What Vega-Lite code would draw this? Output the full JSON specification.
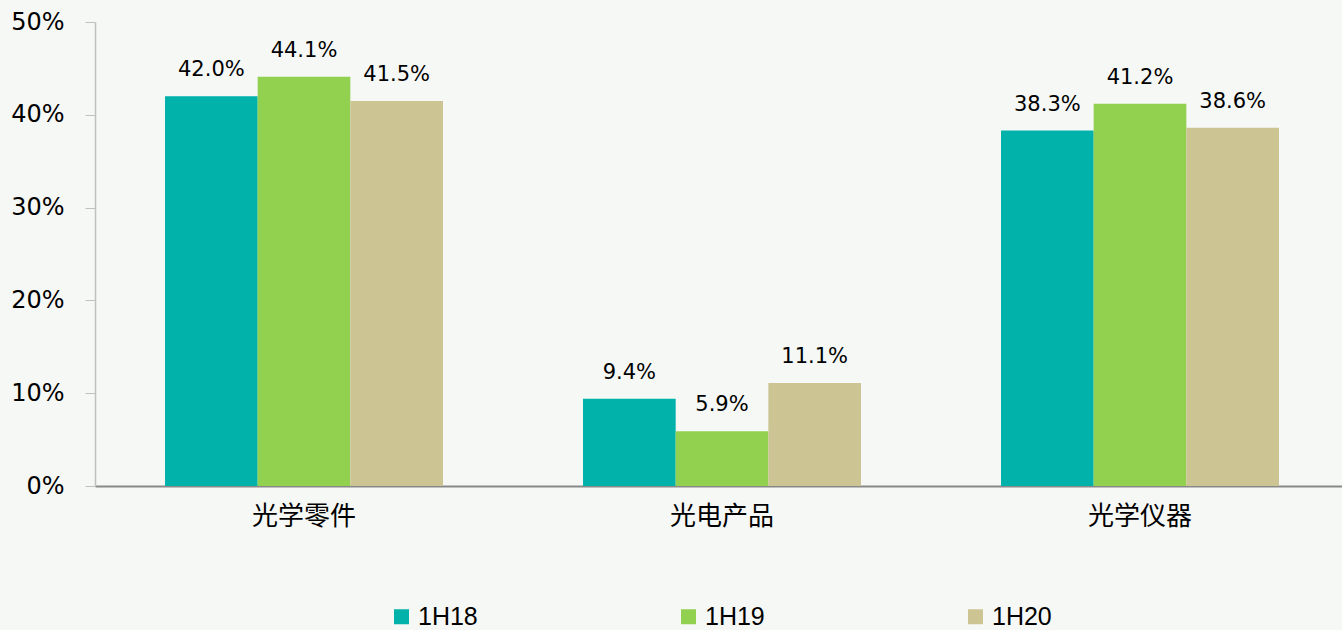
{
  "$schema": "https://vega.github.io/schema/vega-lite/v6.json",
  "width": 1247,
  "height": 464,
  "autosize": {"type": "none"},
  "padding": {"left": 95, "top": 22, "right": 0, "bottom": 144},
  "background": "#f6f8f6",
  "config": {"view": {"stroke": null}},
  "data": {
    "values": [
      {"cat": "光学零件", "period": "1H18", "value": 0.420},
      {"cat": "光学零件", "period": "1H19", "value": 0.441},
      {"cat": "光学零件", "period": "1H20", "value": 0.415},
      {"cat": "光电产品", "period": "1H18", "value": 0.094},
      {"cat": "光电产品", "period": "1H19", "value": 0.059},
      {"cat": "光电产品", "period": "1H20", "value": 0.111},
      {"cat": "光学仪器", "period": "1H18", "value": 0.383},
      {"cat": "光学仪器", "period": "1H19", "value": 0.412},
      {"cat": "光学仪器", "period": "1H20", "value": 0.386}
    ]
  },
  "encoding": {
    "x": {
      "field": "cat",
      "type": "nominal",
      "sort": ["光学零件", "光电产品", "光学仪器"],
      "scale": {"range": [0, 1254], "paddingInner": 0.335, "paddingOuter": 0.1675},
      "axis": {
        "title": null,
        "labelAngle": 0,
        "labelFont": "Noto Sans CJK SC",
        "labelFontSize": 26,
        "labelColor": "#000000",
        "labelPadding": 17,
        "ticks": false,
        "domainColor": "#888888",
        "domainWidth": 2
      }
    },
    "xOffset": {"field": "period", "type": "nominal", "sort": ["1H18", "1H19", "1H20"]},
    "y": {
      "field": "value",
      "type": "quantitative",
      "scale": {"domain": [0, 0.5], "nice": false},
      "axis": {
        "title": null,
        "values": [0, 0.1, 0.2, 0.3, 0.4, 0.5],
        "format": ".0%",
        "grid": false,
        "labelFont": "DejaVu Sans",
        "labelFontSize": 24,
        "labelColor": "#000000",
        "labelPadding": 21,
        "tickSize": 10,
        "tickColor": "#c0c0c0",
        "domainColor": "#c0c0c0",
        "domainWidth": 1.5
      }
    }
  },
  "layer": [
    {
      "mark": {"type": "bar"},
      "encoding": {
        "color": {
          "field": "period",
          "type": "nominal",
          "scale": {"domain": ["1H18", "1H19", "1H20"], "range": ["#00b2a9", "#92d050", "#cdc493"]},
          "legend": {
            "title": null,
            "orient": "none",
            "legendX": 294,
            "legendY": 582,
            "direction": "horizontal",
            "columnPadding": 198,
            "symbolType": "square",
            "symbolSize": 225,
            "symbolStrokeWidth": 0,
            "labelFont": "Liberation Sans",
            "labelFontSize": 25,
            "labelColor": "#000000",
            "labelOffset": 4
          }
        }
      }
    },
    {
      "mark": {"type": "text", "baseline": "alphabetic", "dy": -20, "font": "DejaVu Sans", "fontSize": 21, "color": "#000000"},
      "encoding": {
        "text": {"field": "value", "type": "quantitative", "format": ".1%"}
      }
    }
  ]
}
